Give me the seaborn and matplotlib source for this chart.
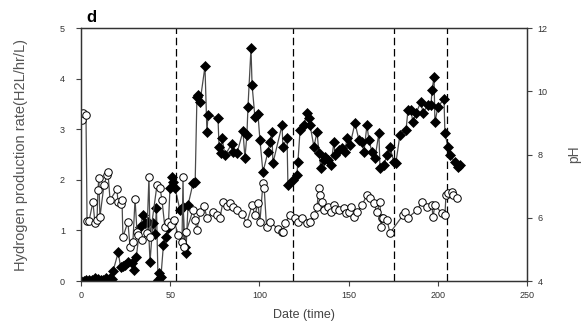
""" Hydrogen production rate and pH over time (panel d) """

import pandas as pd
import numpy as np
import matplotlib
matplotlib.use("Agg")
import matplotlib.pyplot as plt
import seaborn as sns

# Hydrogen production rate (H2 L/hr/L), black diamonds
h_day = [0, 1.5, 3, 4.5, 6, 8, 9.5, 11, 12.5, 14, 16, 17.2,
         18, 20.9, 22.2, 23.5, 24.6, 26.5, 28.4, 29.9, 31, 33, 34.9, 35.9, 37.7, 38.7,
         40.3, 41.5, 42.3, 43.2, 44, 44.8, 46.2, 47.6, 48.9, 49.9, 50.9, 51.7, 52.7,
         55.5, 57.2, 58.3, 58.8, 60, 62.8, 64, 65, 65.6, 66.7, 69.5, 70.6, 71.2,
         76.8, 77.4, 78.5, 79, 80.7, 84.6, 85.2, 87.4, 90.8, 91.9, 93, 93.6, 95.3,
         95.9, 97.5, 99.2, 100.3, 102, 104.8, 106, 107, 107.6, 112.7, 113.2, 115.5,
         116, 118.8, 121, 121.6, 122.8, 125, 126.7, 127.8, 128.4, 130.6, 132.3,
         133.4, 134.5, 136.2, 136.8, 138.5, 140.1, 141.8, 142.4, 144.6, 146.3, 148,
         149.1, 150.8, 153.6, 155.8, 157.5, 158.6, 160.3, 161.4, 163.1, 164.8, 167,
         167.6, 169.8, 171.5, 173.2, 175.4, 176.5, 178.8, 182.2, 183.3, 185, 186,
         187.8, 190.6, 191.7, 194.5, 196.2, 196.8, 197.9, 198.4, 200.1, 203.5, 204,
         205.7, 206.8, 209.6, 211.3, 212.4]
h_rate = [0.0, 0.01, 0.02, 0.02, 0.03, 0.05, 0.04, 0.03, 0.02, 0.05, 0.06, 0.04,
          0.2, 0.57, 0.27, 0.3, 0.32, 0.38, 0.36, 0.22, 0.47, 1.07, 1.3, 1.15, 1.17, 0.38,
          1.15, 0.92, 1.45, 0.02, 0.15, 0.08, 0.71, 0.87, 1.05, 1.84, 2.06, 1.96, 1.84,
          1.4, 1.46, 0.67, 0.55, 1.5, 1.93, 1.95, 3.64, 3.67, 3.53, 4.24, 2.94, 3.28,
          3.22, 2.65, 2.53, 2.83, 2.49, 2.71, 2.55, 2.52, 2.96, 2.43, 2.88, 3.44, 4.6,
          3.87, 3.24, 3.3, 2.79, 2.15, 2.55, 2.75, 2.95, 2.33, 3.08, 2.65, 2.83,
          1.9, 2.0, 2.1, 2.35, 2.98, 3.08, 3.32, 3.22, 3.08, 2.65, 2.95,
          2.53, 2.23, 2.39, 2.45, 2.39, 2.29, 2.75, 2.49, 2.59, 2.63, 2.55,
          2.83, 2.69, 3.12, 2.79, 2.75, 2.55, 3.08, 2.79, 2.55, 2.43, 2.92,
          2.23, 2.29, 2.49, 2.65, 2.35, 2.33, 2.89, 2.98, 3.38, 3.38, 3.14,
          3.32, 3.54, 3.32, 3.48, 3.48, 3.78, 4.03, 3.14, 3.44, 3.6, 2.92,
          2.65, 2.49, 2.35, 2.25, 2.29]

# pH, open circles (right axis)
ph_day = [0.5, 1.2, 2.8, 3.4, 4.5, 6.7, 7.8, 9, 9.5, 10, 10.6, 12.9, 14.5, 15.1, 16.3,
          20.2, 20.7, 22.5, 23, 23.5, 26.3, 27.5, 29.1, 30.3, 31.4, 32, 34.2, 37, 38.1,
          38.7, 42.6, 44.3, 45.4, 47, 48.9, 50.3, 52.1, 54.4, 56.6, 57.2, 57.7, 58.9,
          62.8, 63.9, 65, 66.7, 69, 70.6, 74, 76.2, 77.9, 79.6, 81.8, 83.5, 85.2, 87.4,
          90.2, 93, 95.9, 97.5, 99.2, 100.3, 102, 102.7, 104, 106, 110.4, 112.7, 113.3,
          114.3, 117.2, 120, 121.6, 123.9, 126.7, 128.4, 130.6, 132.3, 133.4, 134, 135,
          136.2, 138.5, 140.1, 141.8, 142.4, 144.6, 147.4, 148.4, 150.2, 151.3, 153,
          154.7, 157.5, 160.3, 162, 164.2, 165.9, 167.6, 168.2, 168.7, 169.3, 171.5,
          173.2, 180.5, 181.6, 183.3, 188.3, 191.1, 194, 196.7, 197.3, 198.4, 202.4,
          204, 204.6, 205.7, 208, 208.5, 210.8]
ph_val = [9.09, 9.31, 9.25, 5.90, 5.90, 6.50, 5.84, 5.94, 6.88, 7.25, 6.02, 7.04, 7.34, 7.44, 6.56,
          6.91, 6.50, 6.43, 6.56, 5.39, 5.87, 5.07, 5.23, 6.59, 5.55, 5.44, 5.30, 5.52, 7.30,
          5.39, 7.04, 6.94, 6.56, 5.71, 5.87, 5.76, 5.94, 5.46, 5.23, 7.30, 5.07, 5.55,
          6.24, 5.94, 5.62, 6.18, 6.37, 6.00, 6.18, 6.08, 6.00, 6.50, 6.37, 6.46, 6.34, 6.24,
          6.11, 5.84, 6.40, 6.08, 6.46, 5.87, 7.09, 6.94, 5.71, 5.87, 5.65, 5.55, 5.55,
          5.84, 6.08, 6.00, 5.87, 6.00, 5.84, 5.87, 6.08, 6.34, 6.94, 6.72, 6.50,
          6.24, 6.34, 6.18, 6.40, 6.27, 6.24, 6.30, 6.14, 6.18, 6.34, 6.02,
          6.18, 6.40, 6.72, 6.62, 6.46, 6.18, 6.50, 5.71, 6.00, 6.00, 5.94,
          5.52, 6.08, 6.18, 6.00, 6.24, 6.50, 6.34, 6.40, 6.02, 6.40, 6.14,
          6.08, 6.72, 6.78, 6.82, 6.72, 6.62]

# Phase boundaries (days)
phase_days = [53.3, 118.8, 175.3, 205]

HydroDf = pd.DataFrame({"day": h_day, "rate": h_rate})
PhDf = pd.DataFrame({"day": ph_day, "pH": ph_val})

sns.set_theme(style="white")
plt.rcParams["font.family"] = ["Liberation Sans", "DejaVu Sans"]

fig = plt.figure(figsize=(5.81, 3.31), dpi=100)
ax = fig.add_axes([0.1394, 0.151, 0.7676, 0.7644])
ax2 = ax.twinx()

line_col = "#4a4a4a"
sns.lineplot(data=HydroDf, x="day", y="rate", ax=ax, estimator=None, sort=False,
             color=line_col, lw=0.9, marker="D", markersize=4.6,
             markerfacecolor="black", markeredgecolor="black", markeredgewidth=0.5)
sns.lineplot(data=PhDf, x="day", y="pH", ax=ax2, estimator=None, sort=False,
             color=line_col, lw=0.9, marker="o", markersize=5.4,
             markerfacecolor="white", markeredgecolor="black", markeredgewidth=0.7)

for d in phase_days:
    ax.axvline(d, color="black", lw=0.9, ls=(0, (6, 3)))

ax.set_xlim(0, 250)
ax.set_ylim(0, 5)
ax2.set_ylim(4, 12)
ax.set_xticks(np.arange(0, 251, 50))
ax.set_yticks(np.arange(0, 6, 1))
ax2.set_yticks(np.arange(4, 13, 2))

tick_col = "#333333"
for a in (ax, ax2):
    a.tick_params(direction="out", length=3.5, width=0.8, colors="#444444",
                  labelcolor=tick_col, labelsize=6.5, pad=2)
    for s in a.spines.values():
        s.set_color("#333333")
        s.set_linewidth(0.9)
ax.tick_params(axis="x", pad=4)
ax.tick_params(axis="y", left=True, right=False, pad=8)
ax.tick_params(axis="x", bottom=True, top=False)
ax2.tick_params(axis="y", right=True, left=False, pad=4)

ax.set_xlabel("Date (time)", fontsize=9, color="#444444", labelpad=6)
ax.set_ylabel("Hydrogen production rate(H2L/hr/L)", fontsize=10.5, color="#555555", labelpad=23)
ax2.set_ylabel("pH", fontsize=10, color="#555555", rotation=90, labelpad=14)

fig.text(0.148, 0.935, "d", fontsize=12, fontweight="bold", color="black")

fig.savefig("out.png", dpi=100)
